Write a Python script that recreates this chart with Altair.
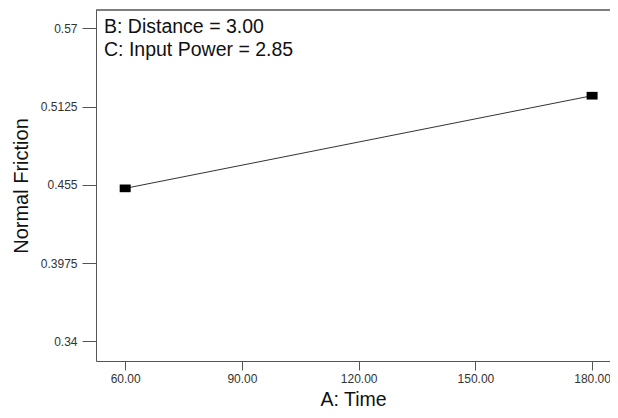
import altair as alt
import pandas as pd

time_vals = [60, 180]
friction_vals = [0.4524, 0.5205]
y_ticks = [0.34, 0.3975, 0.455, 0.5125, 0.57]
x_ticks = [60, 90, 120, 150, 180]
notes = ["B: Distance = 3.00", "C: Input Power = 2.85"]

df = pd.DataFrame({"time": time_vals, "friction": friction_vals})

W, H = 514, 351
FONT = "Liberation Sans"

x = alt.X("time:Q", scale=alt.Scale(domain=[52.5, 184.6], nice=False, zero=False),
          axis=alt.Axis(title="A: Time", values=x_ticks, format=".2f", tickSize=9,
                        labelFontSize=12, labelColor="#333", titleFontSize=19.5,
                        titleFontWeight="normal", titleColor="#111",
                        titleBaseline="alphabetic", titleY=44,
                        labelPadding=3, domainColor="#555", tickColor="#555", grid=False,
                        labelFont=FONT, titleFont=FONT))
y = alt.Y("friction:Q", scale=alt.Scale(domain=[0.3255, 0.5835], nice=False, zero=False),
          axis=alt.Axis(title="Normal Friction", values=y_ticks, tickSize=14,
                        labelExpr="datum.value == 0.5125 || datum.value == 0.3975 ? format(datum.value, '.4f') : format(datum.value, '.3~f')",
                        labelFontSize=12, labelColor="#333", titleFontSize=20,
                        titleFontWeight="normal", titleColor="#111", titlePadding=9,
                        labelPadding=5, domainColor="#555", tickColor="#555", grid=False,
                        labelFont=FONT, titleFont=FONT))

line = alt.Chart(df).mark_line(color="#333", strokeWidth=1).encode(x=x, y=y)
pts = alt.Chart(df).mark_point(shape="M-1,-0.7L1,-0.7L1,0.7L-1,0.7Z", size=121,
                               filled=True, color="black", opacity=1).encode(x=x, y=y)
top = alt.Chart(df).mark_rule(color="#555", strokeWidth=1).encode(
    x=alt.value(0), x2=alt.value(W), y=alt.value(0))
txt = alt.Chart(pd.DataFrame({"t": [notes]})).mark_text(
    align="left", baseline="alphabetic", fontSize=19.5, font=FONT, color="#111",
    lineHeight=23).encode(x=alt.value(8), y=alt.value(23), text="t")

chart = alt.layer(top, line, pts, txt).properties(
    width=W, height=H, autosize="none",
    padding={"left": 88, "top": 2, "right": 0, "bottom": 49}
).configure_view(stroke=None)

chart.save("out.html", embed_options={"renderer": "svg", "actions": False})
